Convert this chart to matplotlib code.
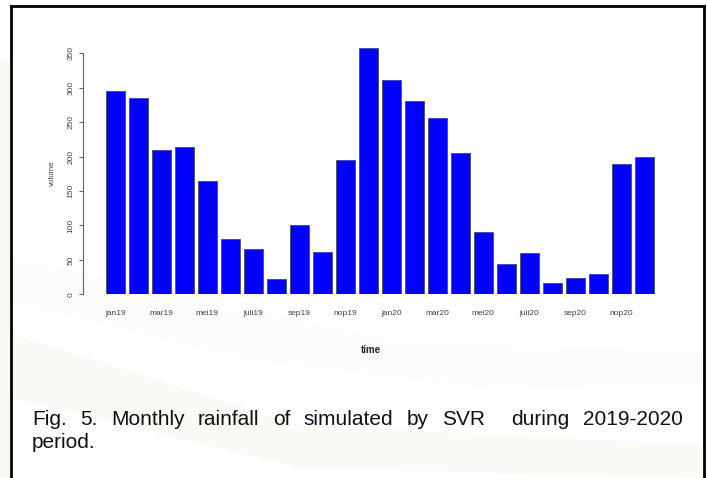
import matplotlib
matplotlib.use("Agg")
import matplotlib.pyplot as plt
from matplotlib.lines import Line2D
from matplotlib.patches import Polygon

plt.rcParams['font.family'] = ['Liberation Sans', 'DejaVu Sans']

months = ["jan19", "feb19", "mar19", "apr19", "mei19", "jun19", "juli19", "agu19",
          "sep19", "okt19", "nop19", "des19", "jan20", "feb20", "mar20", "apr20",
          "mei20", "jun20", "juli20", "agu20", "sep20", "okt20", "nop20", "des20"]
volume = [295, 285, 209, 214, 165, 80, 66, 22, 101, 61, 195, 358,
          311, 281, 256, 205, 90, 44, 60, 17, 24, 29, 189, 199]
y_ticks = [0, 50, 100, 150, 200, 250, 300, 350]
caption_line1 = ["Fig.", "5.", "Monthly", "rainfall", "of", "simulated", "by", "SVR", "during", "2019-2020"]
caption_line2 = "period."

W, H = 707, 478
fig = plt.figure(figsize=(W / 100, H / 100), dpi=100)
fig.patch.set_facecolor("white")

def fx(px): return px / W
def fy(py): return 1 - py / H

# very faint watermark swooshes
for pts, col in [
    ([(0, 330), (0, 395), (300, 468), (707, 478), (707, 445), (300, 425)], "#fbfaf7"),
    ([(0, 255), (0, 300), (250, 360), (500, 390), (707, 382), (707, 352), (400, 342)], "#fcfcfa"),
    ([(0, 60), (11, 60), (11, 478), (0, 478)], "#faf8f0"),
]:
    fig.add_artist(Polygon([(fx(a), fy(b)) for a, b in pts], closed=True,
                           facecolor=col, edgecolor="none", transform=fig.transFigure, zorder=0))

# axes placement
ax_left_px, ax_right_px = 83, 690
y0_px, y350_px = 294.3, 53.3
ppu = (y0_px - y350_px) / 350
ytop = 372
ax_top_px = y0_px - ytop * ppu
ax_w_px = ax_right_px - ax_left_px
ax_h_px = y0_px - ax_top_px
ax = fig.add_axes([ax_left_px / W, 1 - y0_px / H, ax_w_px / W, ax_h_px / H])
ax.set_facecolor("none")

x = list(range(len(volume)))
ax.bar(x, volume, width=0.84, color="#0000ff", edgecolor="#555566", linewidth=0.7, zorder=2)

bar_px = 23.0
first_center_px = 115.2
xmin = -(first_center_px - ax_left_px) / bar_px
ax.set_xlim(xmin, xmin + ax_w_px / bar_px)
ax.set_ylim(0, ytop)

for s in ["top", "right", "bottom"]:
    ax.spines[s].set_visible(False)
ax.spines["left"].set_bounds(0, 350)
ax.spines["left"].set_color("#666666")
ax.spines["left"].set_linewidth(0.8)

ax.set_yticks(y_ticks)
ax.set_yticklabels([str(v) for v in y_ticks], rotation=90, va="center", fontsize=6, color="#444444")
ax.tick_params(axis="y", length=3, width=0.8, color="#666666", pad=3)

ax.set_xticks(x[::2])
ax.set_xticklabels(months[::2], fontsize=6, color="#444444")
ax.tick_params(axis="x", length=0, pad=11)

ax.set_xlabel("time", fontsize=7, fontweight="bold", color="#222222")
ax.set_ylabel("volume", fontsize=5.8, color="#444444")
ax.xaxis.set_label_coords((370.7 - ax_left_px) / ax_w_px, -(345 - y0_px) / ax_h_px)
ax.yaxis.set_label_coords(-(ax_left_px - 55.5) / ax_w_px, (y0_px - 173) / ax_h_px)

# frame
lw = 2.0
fig.add_artist(Line2D([fx(11), fx(11)], [fy(6), 0], color="black", lw=lw, transform=fig.transFigure))
fig.add_artist(Line2D([fx(704), fx(704)], [fy(6), 0], color="black", lw=lw, transform=fig.transFigure))
fig.add_artist(Line2D([fx(11), fx(704)], [fy(6), fy(6)], color="black", lw=lw, transform=fig.transFigure))

# justified caption
fs = 15
renderer = fig.canvas.get_renderer()
left_px, right_px = 32, 683
base1, base2 = 425, 448
texts, widths = [], []
for w in caption_line1:
    t = fig.text(0, 0, w, fontsize=fs, color="#111111", va="baseline", ha="left")
    widths.append(t.get_window_extent(renderer).width)
    texts.append(t)
gap_weights = [1] * (len(caption_line1) - 1)
gap_weights[caption_line1.index("SVR")] = 2.0
unit = ((right_px - left_px) - sum(widths)) / sum(gap_weights)
cur = left_px
for i, t in enumerate(texts):
    t.set_position((fx(cur), fy(base1)))
    cur += widths[i]
    if i < len(gap_weights):
        cur += unit * gap_weights[i]
fig.text(fx(left_px), fy(base2), caption_line2, fontsize=fs, color="#111111", va="baseline", ha="left")

fig.savefig("out.png", dpi=100)
